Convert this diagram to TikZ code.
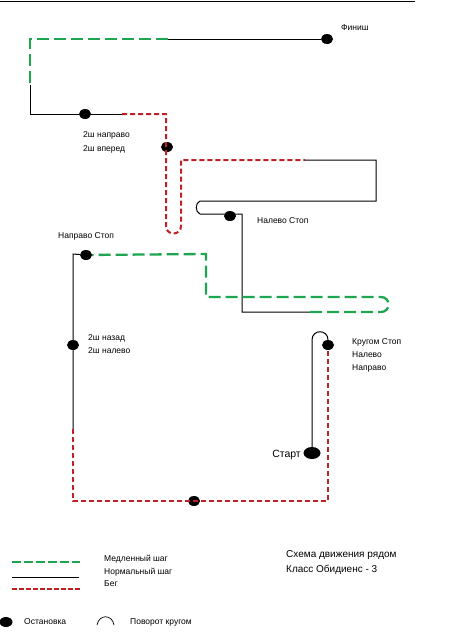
\documentclass[tikz,border=0pt]{standalone}
\usepackage{fontspec}
\setmainfont{Liberation Sans}
\usetikzlibrary{shapes.geometric}
\definecolor{slowgreen}{RGB}{30,165,80}
\definecolor{runred}{RGB}{190,32,38}
\tikzset{
  slow/.style={draw=slowgreen, line width=2.3pt, dash pattern=on 12pt off 5pt},
  normal/.style={draw=black, line width=1pt},
  run/.style={draw=runred, line width=2pt, dash pattern=on 5pt off 3pt},
  stopdot/.style={ellipse, fill=black, minimum width=12pt, minimum height=10pt, inner sep=0pt},
  lbl/.style={font=\fontsize{8.5}{10}\selectfont, anchor=west, inner sep=0pt},
  titlelbl/.style={font=\fontsize{10}{11}\selectfont, anchor=west, inner sep=0pt}
}
\begin{document}
\begin{tikzpicture}[x=1pt,y=-1pt]
\useasboundingbox (0,0) rectangle (466,635);
% top rule
\draw[normal] (0,1) -- (415,1);
% stop dots
\node[stopdot] (fin) at (327,39) {};
\node[stopdot] (d1) at (85,114) {};
\node[stopdot] (d2) at (167,147) {};
\node[stopdot] (d3) at (230,216) {};
\node[stopdot] (d4) at (86,255) {};
\node[stopdot] (d5) at (73,345) {};
\node[stopdot] (d6) at (328,345) {};
\node[stopdot] (d7) at (194,501) {};
\node[stopdot, minimum width=17pt, minimum height=12pt] (start) at (312,453) {};
% coordinates
\coordinate (g1) at (168,39);
\coordinate (tl) at (30,39);
\coordinate (gl) at (30,85);
\coordinate (bl) at (30,114);
\coordinate (r0) at (122,114);
\coordinate (r1) at (166,114);
\coordinate (r2) at (166,226);
\coordinate (r3) at (181,226);
\coordinate (r4) at (181,160);
\coordinate (r5) at (305,160);
\coordinate (b1) at (376,160);
\coordinate (b2) at (376,201);
\coordinate (b3) at (200,201);
\coordinate (b4) at (200,214);
\coordinate (b5) at (242,214);
\coordinate (b6) at (242,312);
\coordinate (b7) at (310,312);
\coordinate (s1) at (381,312);
\coordinate (s2) at (381,297);
\coordinate (s3) at (206,297);
\coordinate (s4) at (206,254);
\coordinate (k1) at (73,254);
\coordinate (k2) at (73,429);
\coordinate (k3) at (73,501);
\coordinate (k4) at (328,501);
\coordinate (u1) at (312,340);
\coordinate (u2) at (328,340);
% route
\draw[normal] (fin) -- (g1);
\draw[slow] (g1) -- (tl) -- (gl);
\draw[normal] (gl) -- (bl) -- (d1) -- (r0);
\draw[run] (r0) -- (r1) -- (r2) .. controls (166,236) and (181,236) .. (r3) -- (r4) -- (r5);
\draw[normal] (r5) -- (b1) -- (b2) -- (b3) .. controls (195,203) and (195,212) .. (b4) -- (b5) -- (b6) -- (b7);
\draw[slow] (b7) -- (s1) .. controls (391,312) and (391,297) .. (s2) -- (s3) -- (s4) -- (d4);
\draw[normal] (d4) -- (k1) -- (k2);
\draw[run] (k2) -- (k3) -- (k4) -- (d6);
\draw[normal] (start) -- (u1) .. controls (312,329) and (328,329) .. (u2) -- (d6);
% labels
\node[lbl] (lfin) at (341,28) {Финиш};
\node[lbl] (l1a) at (83,135) {2ш направо};
\node[lbl] (l1b) at (83,149) {2ш вперед};
\node[lbl] (l3) at (257,221) {Налево Стоп};
\node[lbl] (l4) at (58,236) {Направо Стоп};
\node[lbl] (l5a) at (88,338) {2ш назад};
\node[lbl] (l5b) at (88,351) {2ш налево};
\node[lbl] (l6a) at (352,342) {Кругом Стоп};
\node[lbl] (l6b) at (352,355) {Налево};
\node[lbl] (l6c) at (352,368) {Направо};
\node[font=\fontsize{10.5}{12}\selectfont, anchor=east, inner sep=0pt] (lstart) at (301,455) {Старт};
% legend
\coordinate (lg1) at (12,562); \coordinate (lg2) at (80,562);
\coordinate (lb1) at (12,577); \coordinate (lb2) at (79,577);
\coordinate (lr1) at (12,589); \coordinate (lr2) at (80,589);
\draw[slow, dash pattern=on 9pt off 3pt] (lg1) -- (lg2);
\draw[normal] (lb1) -- (lb2);
\draw[run, dash pattern=on 5pt off 2pt] (lr1) -- (lr2);
\node[lbl] (tslow) at (104,559) {Медленный шаг};
\node[lbl] (tnorm) at (104,572) {Нормальный шаг};
\node[lbl] (trun) at (104,584) {Бег};
\node[stopdot, minimum width=13pt] (ldot) at (6,622) {};
\node[lbl] (tstop) at (24,622) {Остановка};
\coordinate (la1) at (97,625); \coordinate (la2) at (114,625);
\draw[normal, line width=0.7pt] (la1) .. controls (99,614) and (112,614) .. (la2);
\node[lbl] (tturn) at (130,622) {Поворот кругом};
\node[titlelbl] (title1) at (286,555) {Схема движения рядом};
\node[titlelbl] (title2) at (286,570) {Класс Обидиенс - 3};
\end{tikzpicture}
\end{document}
